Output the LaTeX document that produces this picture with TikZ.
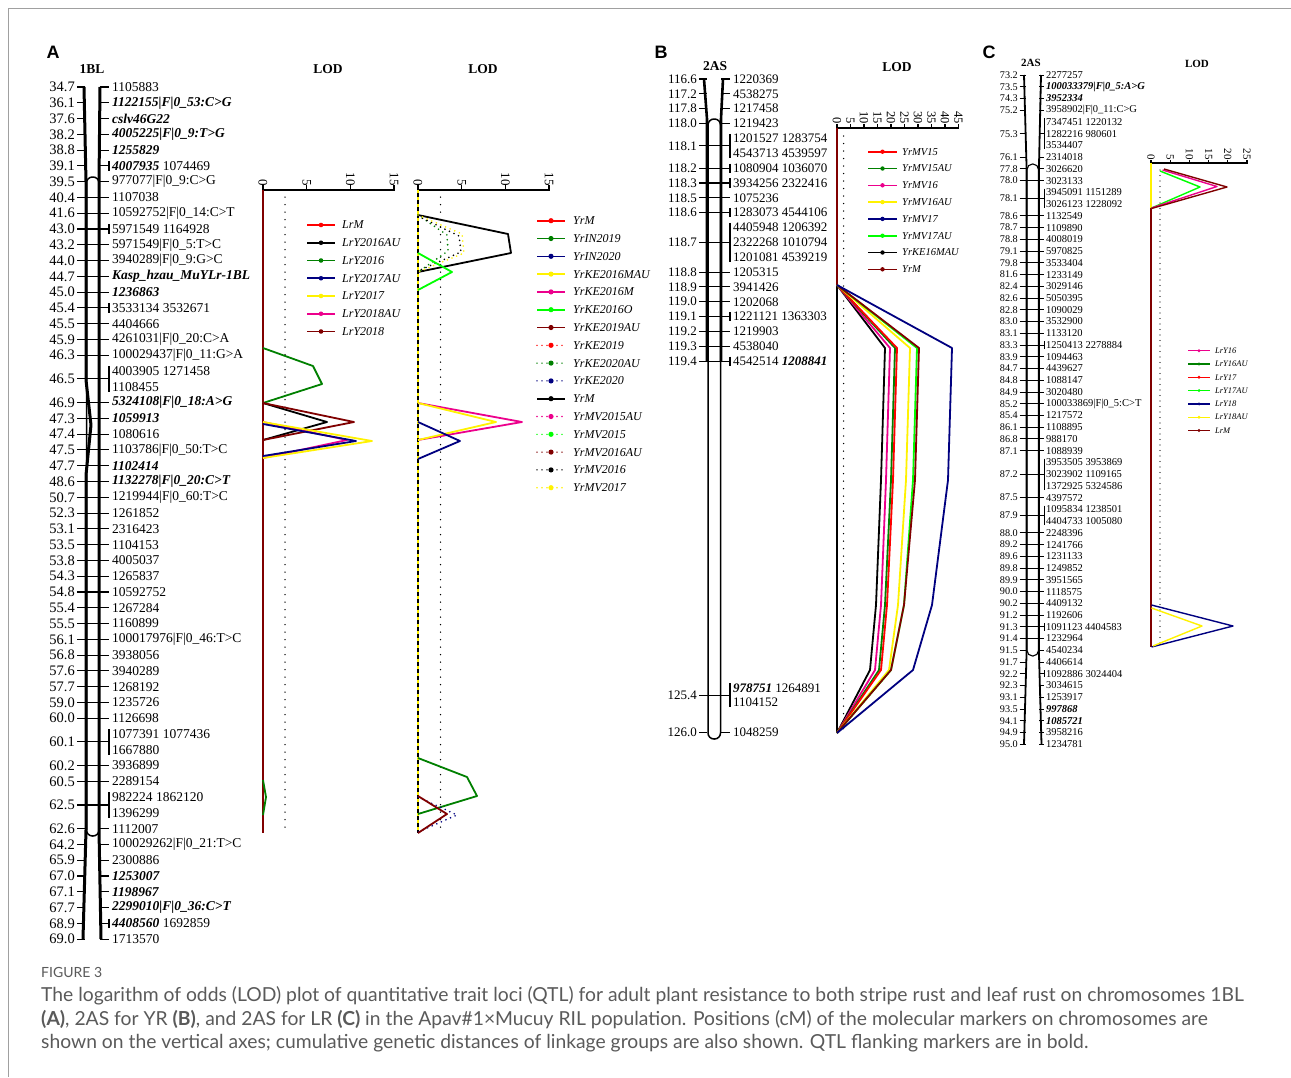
\documentclass[tikz,border=0pt]{standalone}
\usepackage{fontspec}
\setmainfont{Liberation Serif}
\newfontfamily\capfont{Lato}
\newfontfamily\panelfont{Liberation Sans}
\definecolor{dkred}{HTML}{800000}
\definecolor{dkgreen}{HTML}{008000}
\definecolor{ltgreen}{HTML}{00FF00}
\definecolor{navyblue}{HTML}{000080}
\definecolor{capgrey}{HTML}{5A5A5A}
\definecolor{framegrey}{HTML}{A0A0A0}
\newcommand\flank[1]{\textbf{\textit{#1}}}

\begin{document}
\begin{tikzpicture}[x=1pt, y=-1pt,
  posA/.style={anchor=east, inner sep=0pt, font=\fontsize{14.5}{15.78}\selectfont},
  mkA/.style={anchor=west, inner sep=0pt, align=left, font=\fontsize{13.5}{15.78}\selectfont},
  posB/.style={anchor=east, inner sep=0pt, font=\fontsize{13}{14.85}\selectfont},
  mkB/.style={anchor=west, inner sep=0pt, align=left, font=\fontsize{13}{14.85}\selectfont},
  posC/.style={anchor=east, inner sep=0pt, font=\fontsize{10.2}{11.74}\selectfont},
  mkC/.style={anchor=west, inner sep=0pt, align=left, font=\fontsize{10.5}{11.74}\selectfont},
  tickln/.style={line width=1.1pt},
  chromo/.style={line width=3pt, line join=round},
  chromoinner/.style={line width=1.5pt, rounded corners=6pt},
  axisln/.style={line width=1.5pt},
  thresh/.style={line width=1.5pt, line cap=round, dash pattern=on 0pt off 7.5pt},
  lod/.style={line width=1.8pt, line join=round},
  lodot/.style={line width=1.8pt, line cap=round, dash pattern=on 0pt off 5pt},
  legsolid/.style={line width=1.6pt},
  legdot/.style={line width=1.6pt, line cap=round, dash pattern=on 0pt off 5pt},
  lodtick/.style={anchor=east, rotate=-90, inner sep=0pt},
  head/.style={inner sep=0pt, font=\bfseries\fontsize{13.5}{14}\selectfont},
  panel/.style={inner sep=0pt, font=\panelfont\bfseries\fontsize{18}{20}\selectfont},
  legA/.style={anchor=west, inner sep=0pt, font=\itshape\fontsize{12}{14}\selectfont},
  legB/.style={anchor=west, inner sep=0pt, font=\itshape\fontsize{10.5}{12}\selectfont},
  legC/.style={anchor=west, inner sep=0pt, font=\itshape\fontsize{8.5}{10}\selectfont},
  captxt/.style={anchor=west, inner sep=0pt, text=capgrey, font=\capfont\fontsize{19.3}{22}\selectfont}]

  \useasboundingbox (0,0) rectangle (1291,1077);
  \fill[white] (0,0) rectangle (1291,1077);
  \draw[framegrey, line width=0.8pt] (8,1077) -- (8,8) -- (1291,8);

  % -- Panel A: chromosome 1BL --
  \node[panel] (letA) at (53,52) {A};
  \node[head] (chrA) at (92,69) {1BL};
  \draw[chromoinner] (86.5,177) rectangle (99,836);
  \foreach \idx/\nl/\br/\pos/\mk in {
    0/1/0/34.7/1105883,
    1/1/0/36.1/\flank{1122155|F|0\_53:C>G},
    2/1/0/37.6/\flank{cslv46G22},
    3/1/0/38.2/\flank{4005225|F|0\_9:T>G},
    4/1/0/38.8/\flank{1255829},
    5/1/1/39.1/\flank{4007935} 1074469,
    6/1/0/39.5/977077|F|0\_9:C>G,
    7/1/0/40.4/1107038,
    8/1/0/41.6/10592752|F|0\_14:C>T,
    9/1/1/43.0/5971549 1164928,
    10/1/0/43.2/5971549|F|0\_5:T>C,
    11/1/0/44.0/3940289|F|0\_9:G>C,
    12/1/0/44.7/\flank{Kasp\_hzau\_MuYLr-1BL},
    13/1/0/45.0/\flank{1236863},
    14/1/1/45.4/3533134 3532671,
    15/1/0/45.5/4404666,
    16/1/0/45.9/4261031|F|0\_20:C>A,
    17/1/0/46.3/100029437|F|0\_11:G>A,
    18/2/1/46.5/4003905 1271458\\1108455,
    20/1/0/46.9/\flank{5324108|F|0\_18:A>G},
    21/1/0/47.3/\flank{1059913},
    22/1/0/47.4/1080616,
    23/1/0/47.5/1103786|F|0\_50:T>C,
    24/1/0/47.7/\flank{1102414},
    25/1/0/48.6/\flank{1132278|F|0\_20:C>T},
    26/1/0/50.7/1219944|F|0\_60:T>C,
    27/1/0/52.3/1261852,
    28/1/0/53.1/2316423,
    29/1/0/53.5/1104153,
    30/1/0/53.8/4005037,
    31/1/0/54.3/1265837,
    32/1/0/54.8/10592752,
    33/1/0/55.4/1267284,
    34/1/0/55.5/1160899,
    35/1/0/56.1/100017976|F|0\_46:T>C,
    36/1/0/56.8/3938056,
    37/1/0/57.6/3940289,
    38/1/0/57.7/1268192,
    39/1/0/59.0/1235726,
    40/1/0/60.0/1126698,
    41/2/1/60.1/1077391 1077436\\1667880,
    43/1/0/60.2/3936899,
    44/1/0/60.5/2289154,
    45/2/1/62.5/982224 1862120\\1396299,
    47/1/0/62.6/1112007,
    48/1/0/64.2/100029262|F|0\_21:T>C,
    49/1/0/65.9/2300886,
    50/1/0/67.0/\flank{1253007},
    51/1/0/67.1/\flank{1198967},
    52/1/0/67.7/\flank{2299010|F|0\_36:C>T},
    53/1/1/68.9/\flank{4408560} 1692859,
    54/1/0/69.0/1713570}{
    \pgfmathsetmacro\yy{87+15.78*(\idx+(\nl-1)/2)}
    \pgfmathtruncatemacro\inn{(\idx>6)&&(\idx<47)}
    \node[posA] (pA\idx) at (75,\yy) {\pos};
    \node[mkA] (mA\idx) at (112,\yy) {\mk};
    \coordinate (lA\idx) at (85,\yy);
    \coordinate (rA\idx) at (100,\yy);
    \draw[tickln] ([xshift=2pt]pA\idx.east) -- (lA\idx);
    \draw[tickln] (rA\idx) -- ([xshift=-3pt]mA\idx.west);
    \ifnum\br=1 \draw[tickln] ([xshift=-3pt]mA\idx.north west) -- ([xshift=-3pt]mA\idx.south west); \fi
    \ifnum\inn=1 \draw[tickln] (lA\idx) -- (rA\idx); \fi
  }
  \draw[chromo] (84,87) -- (86,182) -- (86,380) -- (91,425) -- (86,475) -- (86,830) -- (83,939);
  \draw[chromo] (100,87) -- (99,182) -- (99,830) -- (101,939);

  % -- Panel A: LOD for leaf rust --
  \node[head] (lodA1) at (328,69) {LOD};
  \draw[axisln] (263,190) -- (395,190);
  \foreach \v/\x in {0/263,5/306.7,10/350.3,15/394}{
    \draw[axisln] (\x,190) -- (\x,185);
    \node[lodtick, font=\fontsize{13}{13}\selectfont] (tA1\v) at (\x,186) {\v};
  }
  \draw[thresh] (285,197) -- (285,833);
  \draw[lod, dkred] (263,190) -- (263,833);
  \draw[lod, dkgreen] (263,348) -- (313,366) -- (322,384) -- (263,403);
  \draw[lod, dkgreen] (263,780) -- (266,797) -- (263,815);
  \draw[lod, black] (263,403) -- (327,422) -- (263,440);
  \draw[lod, dkred] (263,403) -- (354,422) -- (263,440);
  \draw[lod, magenta] (263,422) -- (347,440) -- (263,458);
  \draw[lod, yellow] (263,422) -- (372,441) -- (263,458);
  \draw[lod, navyblue] (263,424) -- (356,441) -- (263,456);
  \foreach \k/\col/\lab in {0/red/LrM, 1/black/LrY2016AU, 2/dkgreen/LrY2016,
      3/navyblue/LrY2017AU, 4/yellow/LrY2017, 5/magenta/LrY2018AU, 6/dkred/LrY2018}{
    \pgfmathsetmacro\ly{225+17.75*\k}
    \draw[legsolid, \col] (307,\ly) -- (335,\ly);
    \fill[\col] (321,\ly) circle (2.3);
    \node[legA] (lgLr\k) at (342,\ly) {\lab};
  }

  % -- Panel A: LOD for stripe rust --
  \node[head] (lodA2) at (483,69) {LOD};
  \draw[axisln] (418,190) -- (550,190);
  \foreach \v/\x in {0/418,5/461.7,10/505.3,15/549}{
    \draw[axisln] (\x,190) -- (\x,185);
    \node[lodtick, font=\fontsize{13}{13}\selectfont] (tA2\v) at (\x,186) {\v};
  }
  \draw[thresh] (440.5,197) -- (440.5,833);
  \draw[lod, black] (418,190) -- (418,833);
  \draw[line width=1.8pt, yellow, dash pattern=on 3pt off 4pt] (418,190) -- (418,833);
  \draw[lod, black] (418,215) -- (508,234) -- (511,253) -- (418,272);
  \draw[lodot, dkgreen] (418,215) -- (447,235) -- (448,251) -- (418,272);
  \draw[lodot, black] (418,216) -- (459,236) -- (461,252) -- (418,271);
  \draw[lodot, yellow] (418,215) -- (462,234) -- (464,253) -- (418,272);
  \draw[lod, ltgreen] (418,253) -- (452,272) -- (418,290);
  \draw[lod, magenta] (418,403) -- (522,422) -- (418,440);
  \draw[lod, yellow] (418,403) -- (496,422) -- (418,440);
  \draw[lod, navyblue] (418,422) -- (460,441) -- (418,459);
  \draw[lod, dkgreen] (418,758) -- (467,777) -- (477,796) -- (418,814);
  \draw[lodot, navyblue] (418,797) -- (457,815) -- (418,832);
  \draw[lod, dkred] (418,796) -- (447,814) -- (418,833);
  \foreach \k/\col/\sty/\lab in {0/red/legsolid/YrM, 1/dkgreen/legsolid/YrIN2019,
      2/navyblue/legsolid/YrIN2020, 3/yellow/legsolid/YrKE2016MAU,
      4/magenta/legsolid/YrKE2016M, 5/ltgreen/legsolid/YrKE2016O,
      6/dkred/legsolid/YrKE2019AU, 7/red/legdot/YrKE2019,
      8/dkgreen/legdot/YrKE2020AU, 9/navyblue/legdot/YrKE2020,
      10/black/legsolid/YrM, 11/magenta/legdot/YrMV2015AU,
      12/ltgreen/legdot/YrMV2015, 13/dkred/legdot/YrMV2016AU,
      14/black/legdot/YrMV2016, 15/yellow/legdot/YrMV2017}{
    \pgfmathsetmacro\ly{220.7+17.8*\k}
    \draw[\sty, \col] (537,\ly) -- (565,\ly);
    \fill[\col] (551,\ly) circle (2.6);
    \node[legA] (lgYr\k) at (573,\ly) {\lab};
  }

  % -- Panel B: chromosome 2AS --
  \node[panel] (letB) at (661,52) {B};
  \node[head] (chrB) at (715,66) {2AS};
  \draw[chromoinner] (708,119) rectangle (720.5,739);
  \foreach \idx/\nl/\br/\pos/\mk in {
    0/1/0/116.6/1220369,
    1/1/0/117.2/4538275,
    2/1/0/117.8/1217458,
    3/1/0/118.0/1219423,
    4/2/1/118.1/1201527 1283754\\4543713 4539597,
    6/1/1/118.2/1080904 1036070,
    7/1/1/118.3/3934256 2322416,
    8/1/0/118.5/1075236,
    9/1/1/118.6/1283073 4544106,
    10/3/1/118.7/4405948 1206392\\2322268 1010794\\1201081 4539219,
    13/1/0/118.8/1205315,
    14/1/0/118.9/3941426,
    15/1/0/119.0/1202068,
    16/1/1/119.1/1221121 1363303,
    17/1/0/119.2/1219903,
    18/1/0/119.3/4538040,
    19/1/1/119.4/4542514 \flank{1208841},
    41/2/1/125.4/\flank{978751} 1264891\\1104152,
    44/1/0/126.0/1048259}{
    \pgfmathsetmacro\yy{79+14.85*(\idx+(\nl-1)/2)}
    \pgfmathtruncatemacro\inn{(\idx>3)&&(\idx<44)}
    \node[posB] (pB\idx) at (697,\yy) {\pos};
    \node[mkB] (mB\idx) at (733,\yy) {\mk};
    \coordinate (lB\idx) at (707,\yy);
    \coordinate (rB\idx) at (721,\yy);
    \draw[tickln] ([xshift=2pt]pB\idx.east) -- (lB\idx);
    \draw[tickln] (rB\idx) -- ([xshift=-3pt]mB\idx.west);
    \ifnum\br=1 \draw[tickln] ([xshift=-3pt]mB\idx.north west) -- ([xshift=-3pt]mB\idx.south west); \fi
    \ifnum\inn=1 \draw[tickln] (lB\idx) -- (rB\idx); \fi
  }
  \draw[chromo, line width=2.6pt] (704,79) -- (707,119) -- (707,361);
  \draw[chromo, line width=2.6pt] (723,79) -- (721,119) -- (721,361);

  % -- Panel B: LOD --
  \node[head] (lodB) at (897,67) {LOD};
  \draw[axisln] (837,128) -- (959,128);
  \foreach \v in {0,5,...,45}{
    \pgfmathsetmacro\xx{837+2.7*\v}
    \draw[axisln] (\xx,128) -- (\xx,124);
    \node[lodtick, font=\fontsize{12.5}{13}\selectfont] (tB\v) at (\xx,124) {\v};
  }
  \draw[thresh] (843.5,136) -- (843.5,733);
  \draw[lod, dkred] (837,128) -- (837,285);
  \draw[lod, black] (837,285) -- (837,733);
  \foreach \col/\pa/\pb/\pc/\pd in {black/885/881/876/870, magenta/890/886/881/875,
      dkgreen/895/891/885/879, red/897/893/887/881, yellow/910/906/898/889,
      ltgreen/917/913/904/891, dkred/919/915/904/891, navyblue/952/948/932/913}{
    \draw[lod, \col] (837,285) -- (\pa,348) -- (\pb,480) -- (\pc,605) -- (\pd,670) -- (837,733);
  }
  \foreach \k/\col/\lab in {0/red/YrMV15, 1/dkgreen/YrMV15AU, 2/magenta/YrMV16,
      3/yellow/YrMV16AU, 4/navyblue/YrMV17, 5/ltgreen/YrMV17AU,
      6/black/YrKE16MAU, 7/dkred/YrM}{
    \pgfmathsetmacro\ly{151.7+16.8*\k}
    \draw[legsolid, \col] (868,\ly) -- (897,\ly);
    \fill[\col] (882.5,\ly) circle (2.2);
    \node[legB] (lgB\k) at (902,\ly) {\lab};
  }

  % -- Panel C: chromosome 2AS --
  \node[panel] (letC) at (989,52) {C};
  \node[head, font=\bfseries\fontsize{11}{12}\selectfont] (chrC) at (1031,63) {2AS};
  \draw[chromoinner, line width=1.1pt, rounded corners=5.5pt] (1027,164) rectangle (1038.5,656);
  \foreach \idx/\nl/\br/\pos/\mk in {
    0/1/0/73.2/2277257,
    1/1/0/73.5/\flank{100033379|F|0\_5:A>G},
    2/1/0/74.3/\flank{3952334},
    3/1/0/75.2/3958902|F|0\_11:C>G,
    4/3/1/75.3/7347451 1220132\\1282216 980601\\3534407,
    7/1/0/76.1/2314018,
    8/1/0/77.8/3026620,
    9/1/0/78.0/3023133,
    10/2/1/78.1/3945091 1151289\\3026123 1228092,
    12/1/0/78.6/1132549,
    13/1/0/78.7/1109890,
    14/1/0/78.8/4008019,
    15/1/0/79.1/5970825,
    16/1/0/79.8/3533404,
    17/1/0/81.6/1233149,
    18/1/0/82.4/3029146,
    19/1/0/82.6/5050395,
    20/1/0/82.8/1090029,
    21/1/0/83.0/3532900,
    22/1/0/83.1/1133120,
    23/1/1/83.3/1250413 2278884,
    24/1/0/83.9/1094463,
    25/1/0/84.7/4439627,
    26/1/0/84.8/1088147,
    27/1/0/84.9/3020480,
    28/1/0/85.2/100033869|F|0\_5:C>T,
    29/1/0/85.4/1217572,
    30/1/0/86.1/1108895,
    31/1/0/86.8/988170,
    32/1/0/87.1/1088939,
    33/3/1/87.2/3953505 3953869\\3023902 1109165\\1372925 5324586,
    36/1/0/87.5/4397572,
    37/2/1/87.9/1095834 1238501\\4404733 1005080,
    39/1/0/88.0/2248396,
    40/1/0/89.2/1241766,
    41/1/0/89.6/1231133,
    42/1/0/89.8/1249852,
    43/1/0/89.9/3951565,
    44/1/0/90.0/1118575,
    45/1/0/90.2/4409132,
    46/1/0/91.2/1192606,
    47/1/1/91.3/1091123 4404583,
    48/1/0/91.4/1232964,
    49/1/0/91.5/4540234,
    50/1/0/91.7/4406614,
    51/1/1/92.2/1092886 3024404,
    52/1/0/92.3/3034615,
    53/1/0/93.1/1253917,
    54/1/0/93.5/\flank{997868},
    55/1/0/94.1/\flank{1085721},
    56/1/0/94.9/3958216,
    57/1/0/95.0/1234781}{
    \pgfmathsetmacro\yy{75+11.74*(\idx+(\nl-1)/2)}
    \pgfmathtruncatemacro\inn{(\idx>8)&&(\idx<49)}
    \node[posC] (pC\idx) at (1018,\yy) {\pos};
    \node[mkC] (mC\idx) at (1046,\yy) {\mk};
    \coordinate (lC\idx) at (1026,\yy);
    \coordinate (rC\idx) at (1039,\yy);
    \draw[tickln, line width=0.9pt] ([xshift=1.5pt]pC\idx.east) -- (lC\idx);
    \draw[tickln, line width=0.9pt] (rC\idx) -- ([xshift=-2pt]mC\idx.west);
    \ifnum\br=1 \draw[tickln, line width=0.9pt] ([xshift=-2pt]mC\idx.north west) -- ([xshift=-2pt]mC\idx.south west); \fi
    \ifnum\inn=1 \draw[tickln, line width=0.9pt] (lC\idx) -- (rC\idx); \fi
  }
  \draw[chromo, line width=1.8pt] (1024,75) -- (1026.5,165) -- (1026.5,655) -- (1024,744);
  \draw[chromo, line width=1.8pt] (1041,75) -- (1039,165) -- (1039,655) -- (1041.5,744);

  % -- Panel C: LOD --
  \node[head, font=\bfseries\fontsize{11}{12}\selectfont] (lodC) at (1197,64) {LOD};
  \draw[axisln, line width=1.2pt] (1151,163) -- (1248,163);
  \foreach \v in {0,5,...,25}{
    \pgfmathsetmacro\xx{1151+3.84*\v}
    \draw[axisln, line width=1.2pt] (\xx,163) -- (\xx,159.5);
    \node[lodtick, font=\fontsize{11}{12}\selectfont] (tC\v) at (\xx,160) {\v};
  }
  \draw[thresh, line width=1.2pt, dash pattern=on 0pt off 5.5pt] (1160,170) -- (1160,647);
  \draw[lod, line width=1.4pt, dkred] (1151,163) -- (1151,647);
  \draw[lod, line width=1.4pt, yellow] (1151,163) -- (1151,208);
  \draw[lod, line width=1.4pt, ltgreen] (1160,171) -- (1200,187) -- (1151.5,208);
  \draw[lod, line width=1.4pt, magenta] (1162.5,170) -- (1217,186.5) -- (1151.5,208);
  \draw[lod, line width=1.4pt, dkred] (1164,169) -- (1227,187) -- (1151.5,208.5);
  \draw[lod, line width=1.4pt, navyblue] (1151.5,605) -- (1233,626) -- (1151.5,647);
  \draw[lod, line width=1.4pt, yellow] (1151.5,608) -- (1202,626) -- (1153,646);
  \foreach \k/\col/\lab in {0/magenta/LrY16, 1/dkgreen/LrY16AU, 2/red/LrY17,
      3/ltgreen/LrY17AU, 4/navyblue/LrY18, 5/yellow/LrY18AU, 6/dkred/LrM}{
    \pgfmathsetmacro\ly{350.7+13.3*\k}
    \draw[legsolid, line width=1.3pt, \col] (1188,\ly) -- (1210,\ly);
    \fill[\col] (1199,\ly) circle (1.6);
    \node[legC] (lgC\k) at (1215,\ly) {\lab};
  }

  % -- Caption --
  \node[captxt, font=\capfont\fontsize{14}{16}\selectfont] (fig) at (41,972) {FIGURE 3};
  \node[captxt] (cap1) at (41,996) {The logarithm of odds (LOD) plot of quantitative trait loci (QTL) for adult plant resistance to both stripe rust and leaf rust on chromosomes 1BL};
  \node[captxt] (cap2) at (41,1020) {\textbf{(A)}, 2AS for YR \textbf{(B)}, and 2AS for LR \textbf{(C)} in the Apav\#1×Mucuy RIL population. Positions (cM) of the molecular markers on chromosomes are};
  \node[captxt] (cap3) at (41,1043) {shown on the vertical axes; cumulative genetic distances of linkage groups are also shown. QTL flanking markers are in bold.};

\end{tikzpicture}
\end{document}
